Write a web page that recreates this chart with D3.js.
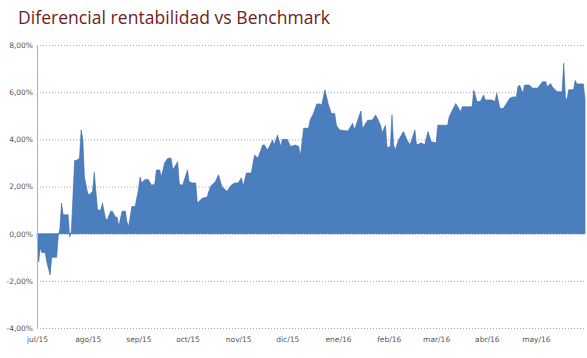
<!DOCTYPE html>
<html><head><meta charset="utf-8">
<script src="https://cdn.jsdelivr.net/npm/d3@7"></script>
<style>body{margin:0;background:#fff}svg{display:block}</style>
</head><body>
<svg id="c" width="587" height="358"></svg>
<script>
const title = "Diferencial rentabilidad vs Benchmark";
const dates = ["2015-07-01","2015-07-02","2015-07-03","2015-07-04","2015-07-06","2015-07-07","2015-07-09","2015-07-10","2015-07-12","2015-07-13","2015-07-14","2015-07-15","2015-07-16","2015-07-17","2015-07-19","2015-07-20","2015-07-21","2015-07-22","2015-07-24","2015-07-25","2015-07-27","2015-07-28","2015-07-29","2015-07-30","2015-08-01","2015-08-02","2015-08-04","2015-08-05","2015-08-07","2015-08-09","2015-08-10","2015-08-12","2015-08-13","2015-08-15","2015-08-16","2015-08-18","2015-08-19","2015-08-20","2015-08-22","2015-08-24","2015-08-25","2015-08-26","2015-08-28","2015-08-30","2015-09-01","2015-09-02","2015-09-03","2015-09-05","2015-09-07","2015-09-09","2015-09-11","2015-09-12","2015-09-14","2015-09-15","2015-09-17","2015-09-19","2015-09-21","2015-09-22","2015-09-25","2015-09-26","2015-09-28","2015-10-01","2015-10-02","2015-10-04","2015-10-06","2015-10-07","2015-10-10","2015-10-13","2015-10-15","2015-10-18","2015-10-20","2015-10-22","2015-10-25","2015-10-28","2015-10-30","2015-11-01","2015-11-03","2015-11-04","2015-11-06","2015-11-09","2015-11-11","2015-11-13","2015-11-16","2015-11-17","2015-11-19","2015-11-22","2015-11-23","2015-11-25","2015-11-27","2015-11-28","2015-12-01","2015-12-03","2015-12-06","2015-12-08","2015-12-09","2015-12-11","2015-12-14","2015-12-15","2015-12-17","2015-12-19","2015-12-21","2015-12-22","2015-12-24","2015-12-26","2015-12-28","2015-12-30","2015-12-31","2016-01-02","2016-01-07","2016-01-10","2016-01-11","2016-01-13","2016-01-15","2016-01-16","2016-01-19","2016-01-22","2016-01-24","2016-01-25","2016-01-27","2016-01-28","2016-01-30","2016-01-31","2016-02-02","2016-02-03","2016-02-04","2016-02-05","2016-02-07","2016-02-10","2016-02-12","2016-02-14","2016-02-17","2016-02-18","2016-02-21","2016-02-23","2016-02-25","2016-02-27","2016-03-01","2016-03-02","2016-03-05","2016-03-08","2016-03-09","2016-03-11","2016-03-13","2016-03-16","2016-03-17","2016-03-20","2016-03-23","2016-03-24","2016-03-26","2016-03-28","2016-03-30","2016-03-31","2016-04-04","2016-04-06","2016-04-07","2016-04-09","2016-04-11","2016-04-13","2016-04-15","2016-04-17","2016-04-19","2016-04-20","2016-04-21","2016-04-23","2016-04-24","2016-04-27","2016-04-29","2016-05-02","2016-05-05","2016-05-07","2016-05-08","2016-05-10","2016-05-11","2016-05-14","2016-05-17","2016-05-18","2016-05-19","2016-05-20","2016-05-21","2016-05-24","2016-05-25","2016-05-26","2016-05-30","2016-05-31"];
const values = [0,-1.2,-0.6,-0.8,-0.8,-1.2,-1.75,-1.0,-1.0,-1.0,-0.1,0.2,1.3,0.8,0.8,0.8,-0.15,0.1,3.1,3.1,3.2,4.4,4.0,2.4,1.7,1.65,1.8,2.6,1.0,1.0,1.3,0.6,0.6,0.95,0.95,0.7,0.7,0.3,0.95,0.95,0.5,0.3,1.15,1.15,1.85,2.4,2.15,2.3,2.3,2.05,2.1,2.7,2.7,2.4,3.0,3.2,3.2,2.7,3.05,2.1,2.05,2.7,2.2,2.15,2.15,1.3,1.5,1.55,2.0,2.2,2.5,2.0,1.8,2.07,2.15,2.15,2.37,2.0,2.57,2.57,3.34,3.2,3.76,3.76,3.55,3.97,3.76,4.18,3.7,4.0,4.0,3.7,3.76,3.7,3.27,4.47,4.47,4.82,5.1,5.5,5.5,5.45,6.1,5.5,5.1,5.1,4.6,4.4,4.35,4.68,4.4,4.8,5.2,4.45,4.8,4.82,5.03,4.9,4.6,4.27,4.6,3.64,3.7,5.03,3.76,3.55,3.97,4.33,4.0,3.76,4.4,3.76,3.85,3.76,4.33,3.9,3.85,4.6,4.6,4.6,4.96,5.24,5.52,5.17,5.38,5.38,5.38,6.09,5.6,5.6,5.88,5.67,5.67,5.6,5.95,5.31,5.31,5.52,5.74,5.8,5.8,6.23,6.3,5.95,6.3,6.3,6.17,6.17,6.44,6.44,6.23,6.37,6.23,6.02,6.02,7.23,5.8,5.67,6.1,6.1,6.5,6.35,6.35,5.7];
const yTicks = [-4,-2,0,2,4,6,8];
const monthTicks = ["2015-07-01","2015-08-01","2015-09-01","2015-10-01","2015-11-01","2015-12-01","2016-01-01","2016-02-01","2016-03-01","2016-04-01","2016-05-01"];
const monthNames = ["ene","feb","mar","abr","may","jun","jul","ago","sep","oct","nov","dic"];

const parse = d3.utcParse("%Y-%m-%d");
const data = dates.map((d,i)=>({date:parse(d), v:values[i]}));
const svg = d3.select("#c");
const L=37, R=585, T=45, B=328;
const x = d3.scaleUtc().domain([parse("2015-07-01"), parse("2016-05-31")]).range([L,R]);
const y = d3.scaleLinear().domain([-4,8]).range([B,T]);

svg.append("text").attr("x",18).attr("y",24).attr("fill","#6e1c22")
  .attr("font-family","Open Sans, sans-serif").attr("font-size",17.5)
  .attr("textLength",312).attr("lengthAdjust","spacing").text(title);

// gridlines
svg.append("g").selectAll("line").data(yTicks).join("line")
  .attr("x1",L).attr("x2",R).attr("y1",d=>y(d)+0.5).attr("y2",d=>y(d)+0.5)
  .attr("stroke","#a6a6a6").attr("stroke-width",1).attr("stroke-dasharray","1,2");

// area
const area = d3.area().x(d=>x(d.date)).y0(y(0)).y1(d=>y(d.v));
svg.append("path").datum(data).attr("d",area).attr("fill","#4a7ebf")
  .attr("stroke","#3c69a3").attr("stroke-width",0.6);

// left axis line
svg.append("line").attr("x1",L+0.5).attr("x2",L+0.5).attr("y1",T).attr("y2",B+1)
  .attr("stroke","#b3b3b3").attr("stroke-width",1);

// y labels
const yAxis = d3.axisLeft(y).tickValues(yTicks).tickSize(0).tickPadding(4)
  .tickFormat(d=>d.toFixed(2).replace(".",",")+"%");
const gy = svg.append("g").attr("transform",`translate(${L},0)`).call(yAxis);
gy.select(".domain").remove();
gy.selectAll("text").attr("font-family","DejaVu Sans, sans-serif").attr("font-size",7.5).attr("fill","#555");

// x labels
const xAxis = d3.axisBottom(x).tickValues(monthTicks.map(parse)).tickSize(0).tickPadding(9)
  .tickFormat(d=>monthNames[d.getUTCMonth()]+"/"+String(d.getUTCFullYear()).slice(2));
const gx = svg.append("g").attr("transform",`translate(0,${B})`).call(xAxis);
gx.select(".domain").remove();
gx.selectAll("text").attr("font-family","DejaVu Sans, sans-serif").attr("font-size",7.5).attr("fill","#555");
</script>
</body></html>
